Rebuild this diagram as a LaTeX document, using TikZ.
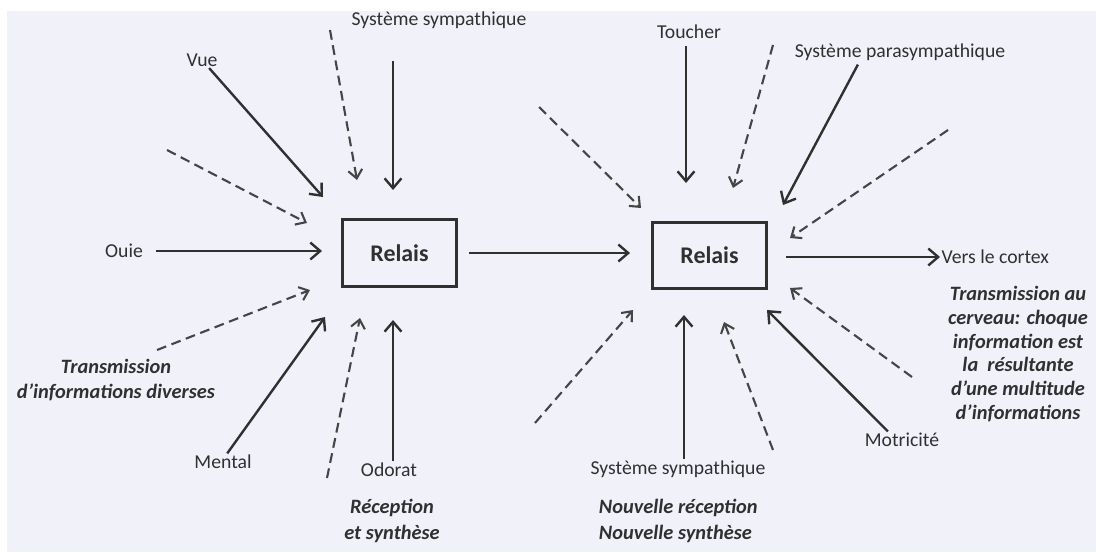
\documentclass[tikz,border=0pt]{standalone}
\usepackage{fontspec}
\setmainfont{Carlito}
\usetikzlibrary{arrows.meta}
\definecolor{paper}{HTML}{F1F1FA}
\definecolor{ink}{HTML}{303030}
\tikzstyle{relais} =
        [
                rectangle,
                draw = ink,
                line width = 2pt,
                text = ink,
                font = \fontsize{17}{20}\selectfont\bfseries,
                minimum width = 81pt,
                minimum height = 48pt
        ]
\tikzstyle{sense} =
        [
                inner sep = 1pt,
                text = ink,
                font = \fontsize{14}{16.8}\selectfont
        ]
\tikzstyle{remark} =
        [
                align = center,
                text = ink,
                font = \fontsize{14.5}{18.2}\selectfont\bfseries\itshape
        ]
\tikzstyle{line} =
        [
                line width = 1.7pt,
                draw = ink,
                -{Straight Barb[length=7pt,width=12pt]}
        ]
\tikzstyle{dline} =
        [
                line width = 1.5pt,
                draw = ink!90,
                dash pattern = on 7pt off 4pt,
                -{Straight Barb[length=6pt,width=10pt]}
        ]

\begin{document}
\begin{tikzpicture}[x=0.025cm, y=-0.025cm]
    \useasboundingbox (0,0) rectangle (1096,552);
    \fill[white] (0,0) rectangle (1096,552);
    \fill[paper] (7,11) rectangle (1096,552);

    % relais
    \node [relais] (relaisA) at (399.5,253) {Relais};
    \node [relais, minimum height = 47pt] (relaisB) at (709.5,255.5) {Relais};
    \node [sense, anchor = west] (cortex) at (940,257) {Vers le cortex};
    \path [line, shorten <= 8pt, shorten >= 15pt] (relaisA.east) -- (relaisA.east -| relaisB.west);
    \path [line, shorten <= 13pt] (relaisB.east |- cortex) -- (cortex.west);

    % premier relais
    \node [sense] (vue) at (202,60) {Vue};
    \node [sense] (ouie) at (124,251) {Ouie};
    \node [sense, anchor = west] (sympA) at (350,20) {Système sympathique};
    \node [sense] (mental) at (223,462) {Mental};
    \node [sense] (odorat) at (389,470) {Odorat};
    \coordinate (vueTip) at (323,197);
    \coordinate (ouieTip) at (322,251);
    \coordinate (sympATip) at (393,190);
    \coordinate (mentalTip) at (325,317);
    \coordinate (odoratTip) at (393,320);
    \path [line] (vue) -- (vueTip);
    \path [line, shorten <= 8pt] (ouie) -- (ouieTip);
    \path [line, shorten <= 22pt] (sympA.south -| sympATip) -- (sympATip);
    \path [line] ([xshift=3pt]mental.north) -- (mentalTip);
    \path [line] (odorat.north -| odoratTip) -- (odoratTip);
    \path [dline] (167,150) coordinate (a1) -- (307,223) coordinate (a1Tip);
    \path [dline] (330,30) coordinate (a2) -- (357,180) coordinate (a2Tip);
    \path [dline] (157,350) coordinate (a3) -- (310,290) coordinate (a3Tip);
    \path [dline] (327,478) coordinate (a4) -- (360,318) coordinate (a4Tip);
    \node [remark] (transA) at (116,380) {Transmission\\d'informations diverses};
    \node [remark] (receptA) at (392,521) {Réception\\et synthèse};

    % second relais
    \node [sense] (toucher) at (689,32) {Toucher};
    \node [sense] (parasymp) at (900,52) {Système parasympathique};
    \node [sense] (sympB) at (678,469) {Système sympathique};
    \node [sense] (motricite) at (902,440) {Motricité};
    \coordinate (toucherTip) at (686,183);
    \coordinate (parasympTip) at (783,205);
    \coordinate (sympBTip) at (684,315);
    \coordinate (motriciteTip) at (767,310);
    \path [line, shorten <= 4pt] (toucher.south -| toucherTip) -- (toucherTip);
    \path [line, shorten <= 2pt] ([xshift=-29pt]parasymp.south) -- (parasympTip);
    \path [line] (sympB.north -| sympBTip) -- (sympBTip);
    \path [line] ([xshift=-10pt]motricite.north) -- (motriciteTip);
    \path [dline] (539,107) coordinate (b1) -- (641,208) coordinate (b1Tip);
    \path [dline] (773,45) coordinate (b2) -- (733,188) coordinate (b2Tip);
    \path [dline] (948,130) coordinate (b3) -- (790,238) coordinate (b3Tip);
    \path [dline] (535,423) coordinate (b4) -- (633,310) coordinate (b4Tip);
    \path [dline] (773,450) coordinate (b5) -- (724,322) coordinate (b5Tip);
    \path [dline] (912,377) coordinate (b6) -- (790,288) coordinate (b6Tip);
    \node [remark, font = \fontsize{14.5}{16.8}\selectfont\bfseries\itshape] (transB) at (1018,354)
        {Transmission au\\cerveau: choque\\information est\\la~ résultante\\d'une multitude\\d'informations};
    \node [remark, align = left, anchor = west] (receptB) at (594,521)
        {Nouvelle réception\\Nouvelle synthèse};
\end{tikzpicture}
\end{document}
